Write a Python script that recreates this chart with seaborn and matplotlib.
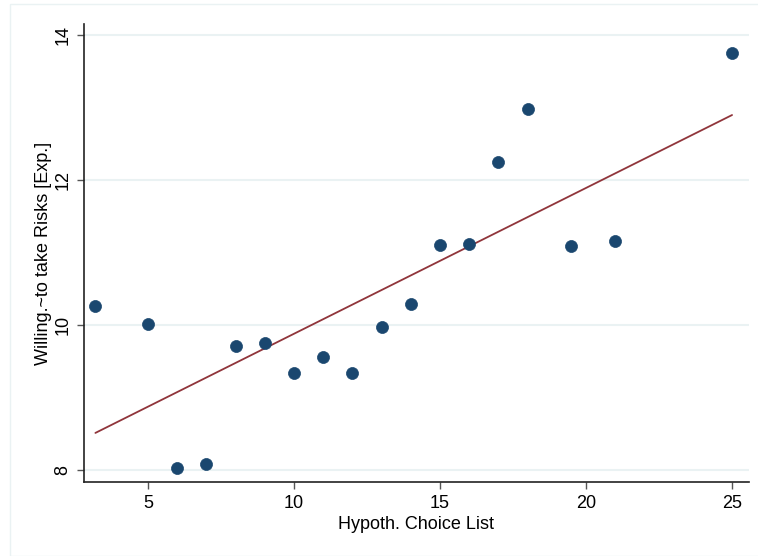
import matplotlib
matplotlib.use("Agg")
import matplotlib.pyplot as plt
import seaborn as sns
import numpy as np
import pandas as pd

# values
hypoth_choice = [3.2, 5.0, 6.0, 7.0, 8.0, 9.0, 10.0, 11.0, 12.0, 13.0, 14.0,
                 15.0, 16.0, 17.0, 18.0, 19.5, 21.0, 25.0]
willing_risk = [10.26, 10.01, 8.03, 8.08, 9.70, 9.75, 9.34, 9.56, 9.34, 9.97,
                10.28, 11.10, 11.12, 12.25, 12.98, 11.08, 11.16, 13.75]
x_ticks = [5, 10, 15, 20, 25]
y_ticks = [8, 10, 12, 14]

df = pd.DataFrame({"x": hypoth_choice, "y": willing_risk})

sns.set_style("white")
plt.rcParams["font.family"] = ["Liberation Sans", "DejaVu Sans"]
plt.rcParams["text.color"] = "black"
plt.rcParams["axes.labelcolor"] = "black"
plt.rcParams["xtick.labelcolor"] = "black"
plt.rcParams["ytick.labelcolor"] = "black"

fig = plt.figure(figsize=(7.58, 5.56), dpi=100)
ax = fig.add_axes([84 / 758, 1 - 482 / 556, (749 - 84) / 758, (482 - 24) / 556])

# outer graph region frame
fig.patches.append(plt.Rectangle((10 / 758, 0), 1, 1 - 4 / 556, transform=fig.transFigure,
                                 fill=False, edgecolor="#eaf2f3", linewidth=1))

for yt in y_ticks:
    ax.axhline(yt, color="#eaf2f3", linewidth=1.5, zorder=0)

sns.scatterplot(data=df, x="x", y="y", ax=ax, color="#1a476f", s=75,
                edgecolor="#1a476f", linewidth=0.5, zorder=3)

slope, intercept = np.polyfit(df["x"], df["y"], 1)
xs = np.array([df["x"].min(), df["x"].max()])
sns.lineplot(x=xs, y=intercept + slope * xs, ax=ax, color="#90353b",
             linewidth=1.3, zorder=2)

ax.set_xlim(2.81, 25.58)
ax.set_ylim(7.83, 14.15)
ax.set_xticks(x_ticks)
ax.set_yticks(y_ticks)
ax.set_yticklabels([str(t) for t in y_ticks], rotation=90, va="center")
ax.tick_params(axis="both", direction="out", length=5, width=1, color="#555555",
               labelsize=13, pad=4, bottom=True, left=True, labelcolor="black")
ax.set_xlabel("Hypoth. Choice List", fontsize=13, labelpad=3, color="black")
ax.set_ylabel("Willing.~to take Risks [Exp.]", fontsize=13, labelpad=2, color="black")

for side in ["top", "right"]:
    ax.spines[side].set_visible(False)
for side in ["left", "bottom"]:
    ax.spines[side].set_color("#222222")
    ax.spines[side].set_linewidth(1.2)

fig.savefig("out.png", dpi=100)
